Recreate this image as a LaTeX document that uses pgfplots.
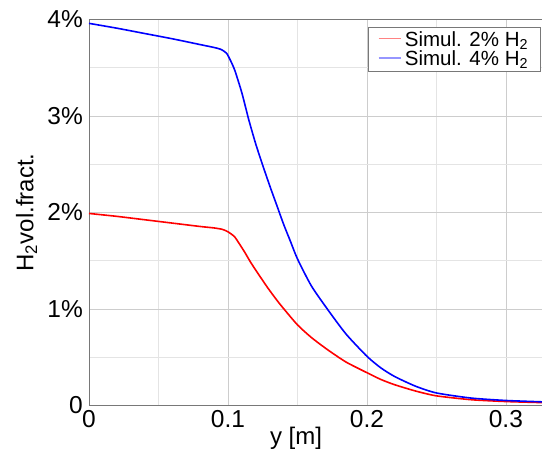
\documentclass[border=0pt]{standalone}
\usepackage{pgfplots}
\pgfplotsset{compat=1.18}
\usepackage{fontspec}
\setmainfont{Liberation Sans}
\definecolor{gridmaj}{RGB}{205,205,205}
\definecolor{gridmin}{RGB}{228,228,228}
\definecolor{axcol}{RGB}{120,120,120}
\definecolor{legred}{RGB}{255,130,130}
\definecolor{legblue}{RGB}{150,150,255}
\begin{document}
\begin{tikzpicture}
\begin{axis}[
  scale only axis,
  width=453pt, height=386pt,
  xmin=0, xmax=0.326, ymin=0, ymax=4,
  axis x line*=box, axis y line*=left,
  axis line style={axcol, line width=0.8pt},
  xtick={0,0.1,0.2,0.3}, xticklabels={0,0.1,0.2,0.3},
  ytick={0,1,2,3,4}, yticklabels={0,1\%,2\%,3\%,4\%},
  minor x tick num=1, minor y tick num=1,
  major tick length=0pt, minor tick length=0pt,
  grid=both,
  major grid style={gridmaj, line width=0.7pt},
  minor grid style={gridmin, line width=0.7pt},
  tick label style={font=\fontsize{24.5}{24.5}\selectfont},
  xticklabel style={inner sep=0pt, anchor=north, yshift=-4.5pt},
  yticklabel style={inner sep=0pt, anchor=east, xshift=-6pt},
  xlabel={y [m]},
  xlabel style={at={(rel axis cs:0.457,0)}, anchor=north, inner sep=0pt, yshift=-21pt, font=\fontsize{24}{24}\selectfont},
  ylabel={H\textsubscript{2}vol.fract.},
  ylabel style={at={(rel axis cs:0,0.5)}, anchor=center, inner sep=0pt, yshift=62.5pt, font=\fontsize{24}{24}\selectfont},
  legend style={at={(rel axis cs:1,1)}, anchor=north east, xshift=-1pt, yshift=-7.5pt,
    draw=axcol, line width=0.8pt, fill=white, font=\fontsize{20.5}{20.5}\selectfont,
    inner xsep=9pt, inner ysep=2.5pt, row sep=0pt, nodes={inner xsep=3.5pt, inner ysep=1.5pt}},
  legend cell align=left,
  clip=true,
]
\addplot[red, line width=1.6pt, smooth, tension=0.4,
  legend image code/.code={\draw[draw=legred, line width=1.6pt] (0pt,1pt) -- (22pt,1pt);}] coordinates {
(0,1.99) (0.02,1.96) (0.04,1.925) (0.06,1.89) (0.08,1.855) (0.09,1.84) (0.096,1.825)
(0.1,1.80) (0.1046,1.751) (0.108,1.68) (0.112,1.59) (0.1165,1.48) (0.122,1.36) (0.1286,1.22)
(0.135,1.095) (0.14,1.005) (0.15,0.836) (0.16,0.705) (0.172,0.575) (0.185,0.45) (0.2,0.34)
(0.21,0.27) (0.22,0.215) (0.235,0.15) (0.25,0.10) (0.275,0.06) (0.3,0.041) (0.326,0.03)};
\addlegendentry{Simul. 2\% H\textsubscript{2}}
\addplot[blue, line width=1.6pt, smooth, tension=0.4,
  legend image code/.code={\draw[draw=legblue, line width=1.6pt] (0pt,1pt) -- (22pt,1pt);}] coordinates {
(0,3.96) (0.02,3.91) (0.04,3.855) (0.06,3.80) (0.08,3.74) (0.09,3.71) (0.095,3.69)
(0.099,3.65) (0.102,3.57) (0.105,3.47) (0.11,3.24) (0.115,2.96) (0.12,2.71) (0.125,2.49)
(0.13,2.28) (0.135,2.08) (0.14,1.88) (0.145,1.70) (0.15,1.52) (0.16,1.24) (0.172,0.99)
(0.185,0.74) (0.2,0.51) (0.21,0.39) (0.22,0.30) (0.235,0.20) (0.25,0.13) (0.275,0.077)
(0.3,0.052) (0.326,0.038)};
\addlegendentry{Simul. 4\% H\textsubscript{2}}
\end{axis}
\pgfresetboundingbox
\path ([shift={(-89pt,-46.3pt)}]current axis.south west) rectangle ([shift={(0pt,19.5pt)}]current axis.north east);
\end{tikzpicture}
\end{document}
